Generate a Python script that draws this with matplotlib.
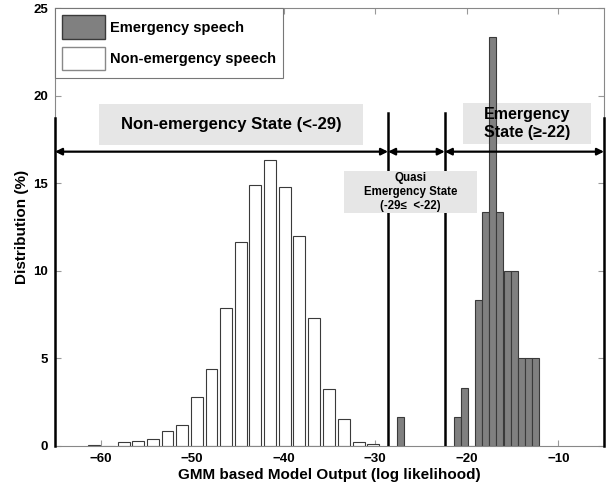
import numpy as np
import matplotlib
matplotlib.use("Agg")
import matplotlib.pyplot as plt
from matplotlib.patches import Patch, Rectangle

plt.rcParams["font.family"] = ["Liberation Sans", "DejaVu Sans"]
plt.rcParams["font.weight"] = "bold"

# non-emergency speech histogram (bin width 1.6)
non_centers = np.array([-60.7, -59.1, -57.5, -55.9, -54.3, -52.7, -51.1, -49.5, -47.9, -46.3,
                        -44.7, -43.1, -41.5, -39.9, -38.3, -36.7, -35.1, -33.4, -31.8, -30.2])
non_values = np.array([0.08, 0.0, 0.25, 0.31, 0.42, 0.84, 1.22, 2.78, 4.41, 7.87,
                       11.64, 14.92, 16.33, 14.79, 11.96, 7.30, 3.27, 1.54, 0.25, 0.10])

# emergency speech histogram (bin width 0.78)
emg_centers = np.array([-27.27, -21.05, -20.27, -19.49, -18.71, -17.93, -17.15,
                        -16.37, -15.59, -14.81, -14.03, -13.25, -12.47])
emg_values = np.array([1.67, 1.67, 3.33, 0.0, 8.33, 13.33, 23.33,
                       13.33, 10.0, 10.0, 5.0, 5.0, 5.0])

# state boundaries
x_min, x_max = -65, -5
quasi_lo, quasi_hi = -28.6, -22.4

# label boxes: (x0, x1, y0, y1, text, fontsize)
labels = [
    (-60.2, -31.3, 17.18, 19.52, "Non-emergency State (<-29)", 12),
    (-33.4, -18.9, 13.31, 15.71, "Quasi\nEmergency State\n(-29\u2264  <-22)", 8.3),
    (-20.45, -6.4, 17.24, 19.58, "Emergency\nState (\u2265-22)", 11.5),
]

fig = plt.figure(figsize=(6.09, 4.88), dpi=100)
ax = fig.add_axes([0.0903, 0.0861, 0.9015, 0.8975])

ax.bar(non_centers, non_values, width=1.3, color="white", edgecolor="#3a3a3a", linewidth=0.8, zorder=2)
ax.bar(emg_centers, emg_values, width=0.76, color="#808080", edgecolor="#3a3a3a", linewidth=0.8, zorder=2)

# boundary lines
for x in [x_min + 0.05, x_max - 0.05]:
    ax.plot([x, x], [0, 18.7], color="black", lw=1.8, zorder=3, clip_on=False)
for x in [quasi_lo, quasi_hi]:
    ax.plot([x, x], [0, 19.0], color="black", lw=1.8, zorder=3)

# arrows
arrow_y = 16.8
for a, b in [(x_min, quasi_lo), (quasi_lo, quasi_hi), (quasi_hi, x_max)]:
    ax.annotate("", xy=(a, arrow_y), xytext=(b, arrow_y),
                arrowprops=dict(arrowstyle="<|-|>", color="black", lw=1.6,
                                mutation_scale=10, shrinkA=0, shrinkB=0), zorder=4)

for x0, x1, y0, y1, txt, fs in labels:
    zb = 1 if "Emergency\nState" in txt else 5
    ax.add_patch(Rectangle((x0, y0), x1 - x0, y1 - y0, facecolor="#e6e6e6", edgecolor="none", zorder=zb))
    ax.text((x0 + x1) / 2, (y0 + y1) / 2, txt, ha="center", va="center", fontsize=fs,
            fontweight="bold", linespacing=1.25, zorder=6)

ax.set_xlim(x_min, x_max)
ax.set_ylim(0, 25)
ax.set_xticks([-60, -50, -40, -30, -20, -10])
ax.set_yticks([0, 5, 10, 15, 20, 25])
ax.tick_params(direction="in", length=4, color="#999999", top=True, right=True, labelsize=9.5, pad=5)
for lbl in ax.get_xticklabels() + ax.get_yticklabels():
    lbl.set_fontweight("bold")
for s in ax.spines.values():
    s.set_color("#888888")
    s.set_linewidth(0.8)

ax.set_xlabel("GMM based Model Output (log likelihood)", fontsize=11, fontweight="bold", labelpad=2)
ax.set_ylabel("Distribution (%)", fontsize=11, fontweight="bold", labelpad=3)

handles = [Patch(facecolor="#808080", edgecolor="#3a3a3a", label="Emergency speech"),
           Patch(facecolor="white", edgecolor="#888888", label="Non-emergency speech")]
leg = ax.legend(handles=handles, loc="upper left", bbox_to_anchor=(0, 1), borderaxespad=0,
                fancybox=False, edgecolor="#777777", framealpha=1,
                handlelength=2.9, handleheight=2.1, handletextpad=0.35, labelspacing=0.55,
                borderpad=0.5, prop={"weight": "bold", "size": 10.5})
leg.get_frame().set_linewidth(0.8)
leg.set_zorder(7)

fig.savefig("out.png", dpi=100)
